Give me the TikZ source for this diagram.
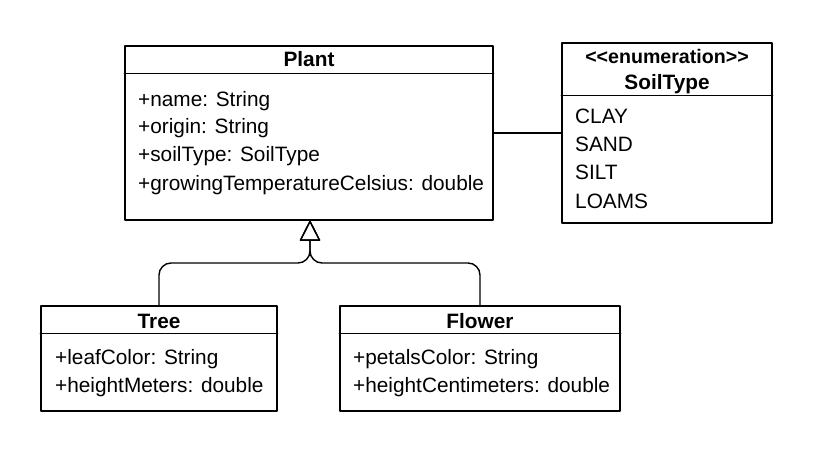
\documentclass[tikz,border=0pt]{standalone}
\usepackage{fontspec}
\setmainfont{Liberation Sans}
\usetikzlibrary{arrows.meta}

\tikzset{
  classbox/.style={draw, line width=1.4pt, inner sep=0pt},
  member/.style={anchor=base west, inner sep=0pt},
  classname/.style={anchor=base, inner sep=0pt, font=\fontsize{20.8}{24}\selectfont\bfseries},
}

\begin{document}
\begin{tikzpicture}[x=1pt, y=-1pt, line cap=round, line join=round,
    font=\fontsize{20.8}{24}\selectfont]
  \useasboundingbox (0,0) rectangle (820,468);
  % class boxes
  \node[classbox, minimum width=368pt, minimum height=174pt] (plant) at (309,133) {};
  \node[classbox, minimum width=210pt, minimum height=180pt] (soil) at (667,133) {};
  \node[classbox, minimum width=236pt, minimum height=105pt] (tree) at (159,358.5) {};
  \node[classbox, minimum width=280pt, minimum height=105pt] (flower) at (480,358.5) {};
  % header separators
  \draw[line width=1.4pt] ([yshift=-28pt]plant.north west) -- ([yshift=-28pt]plant.north east);
  \draw[line width=1.4pt] ([yshift=-53pt]soil.north west) -- ([yshift=-53pt]soil.north east);
  \draw[line width=1.4pt] ([yshift=-28pt]tree.north west) -- ([yshift=-28pt]tree.north east);
  \draw[line width=1.4pt] ([yshift=-28pt]flower.north west) -- ([yshift=-28pt]flower.north east);
  % names
  \node[classname] (plantname) at (309,67) {Plant};
  \node[classname, font=\fontsize{19.6}{22}\selectfont\bfseries] (soilstereo) at (667,64) {<{}<enumeration>{}>};
  \node[classname] (soilname) at (667,89.5) {SoilType};
  \node[classname] (treename) at (159,328) {Tree};
  \node[classname] (flowername) at (480,328) {Flower};
  % attributes
  \node[member] (p1) at (138,107) {+name: String};
  \node[member] (p2) at (138,134) {+origin: String};
  \node[member] (p3) at (138,162) {+soilType: SoilType};
  \node[member] (p4) at (138,190) {+growingTemperatureCelsius: double};
  \node[member] (s1) at (575,124) {CLAY};
  \node[member] (s2) at (575,152) {SAND};
  \node[member] (s3) at (575,180) {SILT};
  \node[member] (s4) at (575,208) {LOAMS};
  \node[member] (t1) at (55,364) {+leafColor: String};
  \node[member] (t2) at (55,392) {+heightMeters: double};
  \node[member] (f1) at (353,364) {+petalsColor: String};
  \node[member] (f2) at (353,392) {+heightCentimeters: double};
  % association
  \draw[line width=1.4pt] (plant.east) -- (soil.west);
  % generalization
  \coordinate (joint) at (310,263);
  \draw[line width=1.4pt, rounded corners=12pt, -{Triangle[open, length=21pt, width=21pt, round]}]
        (tree.north) |- (joint) -- (plant.south -| joint);
  \draw[line width=1.4pt, rounded corners=12pt, -{Triangle[open, length=21pt, width=21pt, round]}]
        (flower.north) |- (joint) -- (plant.south -| joint);
\end{tikzpicture}
\end{document}
